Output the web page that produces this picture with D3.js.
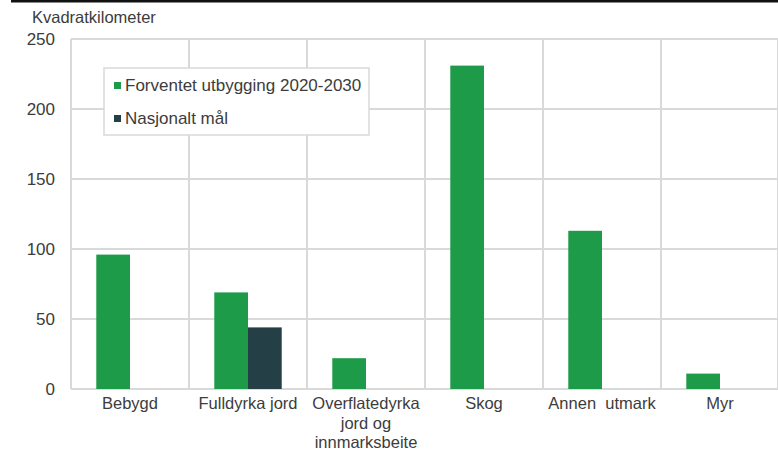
<!DOCTYPE html>
<html>
<head>
<meta charset="utf-8">
<script src="https://cdn.jsdelivr.net/npm/d3@7"></script>
<style>
  body { margin: 0; background: #fff; }
  text { font-family: "Liberation Sans", Arial, sans-serif; fill: #3c3c3c; }
</style>
</head>
<body>
<script>
// data
const kategorier = ["Bebygd", "Fulldyrka jord", "Overflatedyrka\njord og\ninnmarksbeite", "Skog", "Annen  utmark", "Myr"]
const serier = ["Forventet utbygging 2020-2030", "Nasjonalt mål"]
const forventet = [96, 69, 22, 231, 113, 11]
const nasjonalt = [null, 44, null, null, null, null]
const yTicks = [0, 50, 100, 150, 200, 250]

const farger = ["#1e9b48", "#243f45"]

const width = 778, height = 459
const margin = { top: 39, right: 0, bottom: 70, left: 71 }

const svg = d3.select("body").append("svg")
    .attr("width", width)
    .attr("height", height)

// black line at the top
svg.append("rect")
    .attr("x", 11).attr("y", 0)
    .attr("width", width - 11).attr("height", 2.5)
    .attr("fill", "#111")

let x = d3.scaleBand()
    .domain(kategorier)
    .range([margin.left, width - margin.right + 1])

let x1 = d3.scaleBand()
    .domain(serier)
    .range([0, x.bandwidth()])
    .paddingOuter(0.75)

let y = d3.scaleLinear()
    .domain([0, 250])
    .range([height - margin.bottom, margin.top])

// grid
let grid = svg.append("g")
grid.selectAll(".h")
    .data(yTicks)
    .enter()
    .append("line")
    .attr("x1", margin.left).attr("x2", width)
    .attr("y1", d => y(d)).attr("y2", d => y(d))
    .attr("stroke", "#d9d9d9").attr("stroke-width", 2)
grid.selectAll(".v")
    .data(kategorier.concat(["end"]))
    .enter()
    .append("line")
    .attr("x1", (d, i) => i < kategorier.length ? x(d) : x.range()[1] - 1)
    .attr("x2", (d, i) => i < kategorier.length ? x(d) : x.range()[1] - 1)
    .attr("y1", y(250)).attr("y2", y(0))
    .attr("stroke", "#d9d9d9").attr("stroke-width", 2)

// y axis
let yAxis = d3.axisLeft(y).tickValues(yTicks).tickSize(0).tickPadding(16)
svg.append("g")
    .attr("transform", "translate(" + margin.left + ",0)")
    .call(yAxis)
    .call(g => g.select(".domain").remove())
    .selectAll("text")
    .style("font-size", "17px")
    .attr("fill", "#3c3c3c")

// bars
let rader = []
kategorier.forEach((k, i) => {
    rader.push({ kat: k, serie: serier[0], verdi: forventet[i] })
    if (nasjonalt[i] != null) rader.push({ kat: k, serie: serier[1], verdi: nasjonalt[i] })
})

svg.append("g").selectAll("rect")
    .data(rader)
    .enter()
    .append("rect")
    .attr("x", d => x(d.kat) + x1(d.serie))
    .attr("y", d => y(d.verdi))
    .attr("width", x1.bandwidth())
    .attr("height", d => y(0) - y(d.verdi))
    .attr("fill", d => farger[serier.indexOf(d.serie)])

// x labels
let xl = svg.append("g")
kategorier.forEach(k => {
    let linjer = k.split("\n")
    let t = xl.append("text")
        .attr("x", x(k) + x.bandwidth() / 2)
        .attr("y", 409)
        .attr("text-anchor", "middle")
        .style("font-size", "16.5px")
        .style("white-space", "pre")
    linjer.forEach((l, j) => {
        t.append("tspan")
            .attr("x", x(k) + x.bandwidth() / 2)
            .attr("dy", j == 0 ? 0 : 19.5)
            .text(l)
    })
})

// title
svg.append("text")
    .attr("x", 32).attr("y", 23)
    .style("font-size", "16.5px")
    .text("Kvadratkilometer")

// legend
let leg = svg.append("g")
leg.append("rect")
    .attr("x", 104).attr("y", 68)
    .attr("width", 265).attr("height", 67)
    .attr("fill", "#fff")
    .attr("stroke", "#d9d9d9").attr("stroke-width", 1.5)
serier.forEach((s, i) => {
    leg.append("rect")
        .attr("x", 114).attr("y", 82 + i * 33)
        .attr("width", 7).attr("height", 7)
        .attr("fill", farger[i])
    leg.append("text")
        .attr("x", 125).attr("y", 91 + i * 33)
        .style("font-size", "17px")
        .text(s)
})
</script>
</body>
</html>
